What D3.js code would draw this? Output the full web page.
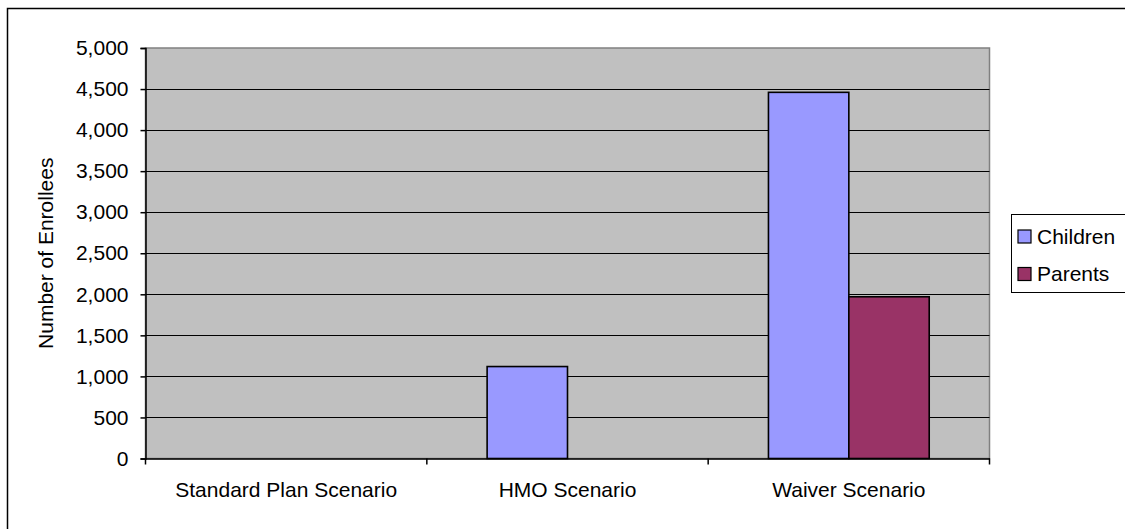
<!DOCTYPE html>
<html>
<head>
<meta charset="utf-8">
<script src="https://cdn.jsdelivr.net/npm/d3@7/dist/d3.min.js"></script>
<style>
  html, body { margin: 0; padding: 0; background: #ffffff; }
  svg { display: block; }
  text { font-family: "Liberation Sans", Arial, sans-serif; fill: #000; }
</style>
</head>
<body>
<svg id="chart" width="1125" height="529"></svg>
<script>
// Enrollees by scenario
const categories = ["Standard Plan Scenario", "HMO Scenario", "Waiver Scenario"];
const seriesNames = ["Children", "Parents"];
const children = [0, 1120, 4460];
const parents = [0, 0, 1970];
const yTicks = [0, 500, 1000, 1500, 2000, 2500, 3000, 3500, 4000, 4500, 5000];
const colors = ["#9999ff", "#993366"];

const svg = d3.select("#chart");
const W = 1125, H = 529;

// outer chart frame (extends beyond the visible area on the right/bottom)
svg.append("rect")
  .attr("x", 7.5).attr("y", 8.5)
  .attr("width", W + 20).attr("height", H + 20)
  .attr("fill", "#fff").attr("stroke", "#000").attr("stroke-width", 1.5);

const plot = { left: 145.5, right: 989.5, top: 48, bottom: 458.5 };

const x0 = d3.scaleBand()
  .domain(categories)
  .range([plot.left, plot.right])
  .paddingInner(0).paddingOuter(0);

// gap width 150% of a bar: band = 2 bars + 1.5 bars gap
const barW = x0.bandwidth() / 3.5;

const y = d3.scaleLinear().domain([0, 5000]).range([plot.bottom, plot.top]);

// plot background
svg.append("rect")
  .attr("x", plot.left).attr("y", plot.top)
  .attr("width", plot.right - plot.left).attr("height", plot.bottom - plot.top)
  .attr("fill", "#c0c0c0").attr("stroke", "#808080").attr("stroke-width", 1.5);

// gridlines
svg.append("g")
  .selectAll("line")
  .data(yTicks.filter(d => d > 0 && d < 5000))
  .join("line")
  .attr("x1", plot.left).attr("x2", plot.right)
  .attr("y1", d => Math.round(y(d)) + 0.5).attr("y2", d => Math.round(y(d)) + 0.5)
  .attr("stroke", "#000").attr("stroke-width", 1);

// bars
const data = categories.map((c, i) => ({ cat: c, vals: [children[i], parents[i]] }));
const groups = svg.append("g").selectAll("g")
  .data(data).join("g");

groups.selectAll("rect")
  .data(d => d.vals.map((v, j) => ({ cat: d.cat, v, j })).filter(e => e.v > 0))
  .join("rect")
  .attr("x", e => x0(e.cat) + (x0.bandwidth() - 2 * barW) / 2 + e.j * barW)
  .attr("y", e => y(e.v))
  .attr("width", barW)
  .attr("height", e => y(0) - y(e.v))
  .attr("fill", e => colors[e.j])
  .attr("stroke", "#000").attr("stroke-width", 1.6);

// y axis
const yAxis = svg.append("g")
  .attr("transform", `translate(${plot.left},0)`)
  .call(d3.axisLeft(y).tickValues(yTicks).tickSize(5).tickPadding(12)
    .tickFormat(d3.format(",")));
yAxis.select(".domain").attr("stroke", "#000").attr("stroke-width", 1.5);
yAxis.selectAll(".tick line").attr("stroke", "#000").attr("stroke-width", 1.5);
yAxis.selectAll("text").attr("font-size", 21).attr("font-family", "Liberation Sans, Arial, sans-serif");

// x axis
const xAxis = svg.append("g")
  .attr("transform", `translate(0,${plot.bottom})`)
  .call(d3.axisBottom(x0).tickSize(0).tickPadding(24));
xAxis.select(".domain").attr("stroke", "#000").attr("stroke-width", 1.5);
xAxis.selectAll("text").attr("font-size", 21).attr("font-family", "Liberation Sans, Arial, sans-serif");

// category divider ticks
const edges = categories.map(c => x0(c)).concat([plot.right]);
svg.append("g").selectAll("line")
  .data(edges).join("line")
  .attr("x1", d => d).attr("x2", d => d)
  .attr("y1", plot.bottom).attr("y2", plot.bottom + 6)
  .attr("stroke", "#000").attr("stroke-width", 1.5);

// y axis title
svg.append("text")
  .attr("transform", `translate(53,${(plot.top + plot.bottom) / 2}) rotate(-90)`)
  .attr("text-anchor", "middle")
  .attr("font-size", 21)
  .text("Number of Enrollees");

// legend
const legend = svg.append("g");
legend.append("rect")
  .attr("x", 1011.5).attr("y", 214.5)
  .attr("width", 140).attr("height", 78)
  .attr("fill", "#fff").attr("stroke", "#000").attr("stroke-width", 1);

const rows = legend.selectAll("g.item")
  .data(seriesNames).join("g").attr("class", "item")
  .attr("transform", (d, i) => `translate(1018,${230 + i * 37.5})`);
rows.append("rect")
  .attr("width", 13).attr("height", 13)
  .attr("fill", (d, i) => colors[i])
  .attr("stroke", "#000").attr("stroke-width", 1.2);
rows.append("text")
  .attr("x", 19).attr("y", 13.5)
  .attr("font-size", 21)
  .text(d => d);
</script>
</body>
</html>
